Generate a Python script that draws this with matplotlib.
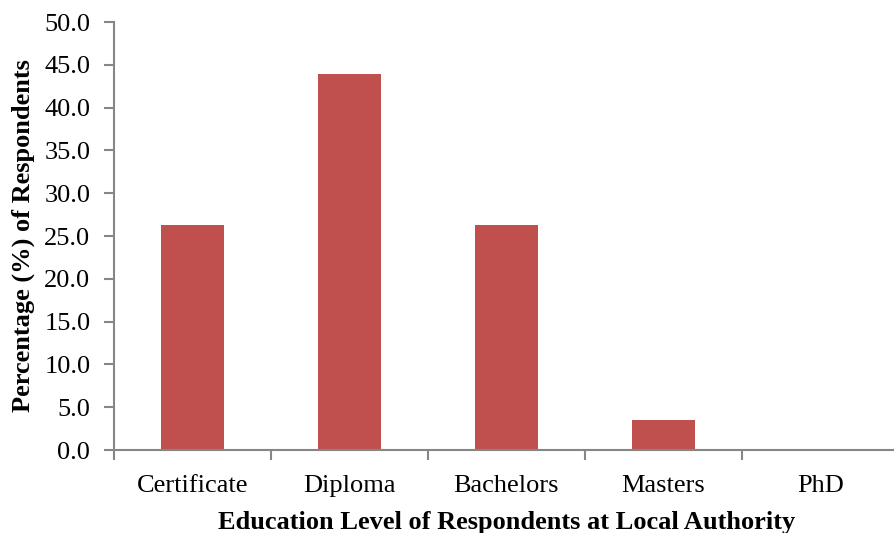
# Education level of respondents at the local authority

import matplotlib.pyplot as plt
import numpy as np

plt.rcParams['font.family'] = ['Liberation Serif', 'DejaVu Serif']

levels = ["Certificate", "Diploma", "Bachelors", "Masters", "PhD"]
percent = [26.3, 43.9, 26.3, 3.5, 0.0]
y_ticks = np.arange(0, 50.1, 5)

fig = plt.figure(figsize=(8.94, 5.33), dpi=100)
ax = fig.add_axes([0.1275, 0.1557, 0.878, 0.803])

x = np.arange(len(levels))
ax.bar(x, percent, width=0.4, color='#C0504D', zorder=2)

ax.set_xlim(-0.5, len(levels) - 0.5)
ax.set_ylim(0, 50)
ax.set_yticks(y_ticks)
ax.set_yticklabels([f"{v:.1f}" for v in y_ticks])

# category labels sit between the boundary ticks
ax.set_xticks(np.arange(-0.5, len(levels)), minor=False)
ax.set_xticklabels([])
ax.set_xticks(x, minor=True)
ax.set_xticklabels(levels, minor=True)
ax.tick_params(axis='x', which='minor', length=0, labelsize=19, pad=18)
ax.tick_params(axis='x', which='major', length=7, width=1.5, color='#868686')
ax.tick_params(axis='y', length=7, width=1.5, color='#868686', labelsize=19, pad=10)

for side in ['top', 'right']:
    ax.spines[side].set_visible(False)
for side in ['left', 'bottom']:
    ax.spines[side].set_color('#868686')
    ax.spines[side].set_linewidth(1.5)

ax.set_xlabel('Education Level of Respondents at Local Authority',
              fontsize=19, fontweight='bold', labelpad=10)
ax.set_ylabel('Percentage (%) of Respondents',
              fontsize=19, fontweight='bold', labelpad=7)

fig.savefig('out.png', dpi=100)
